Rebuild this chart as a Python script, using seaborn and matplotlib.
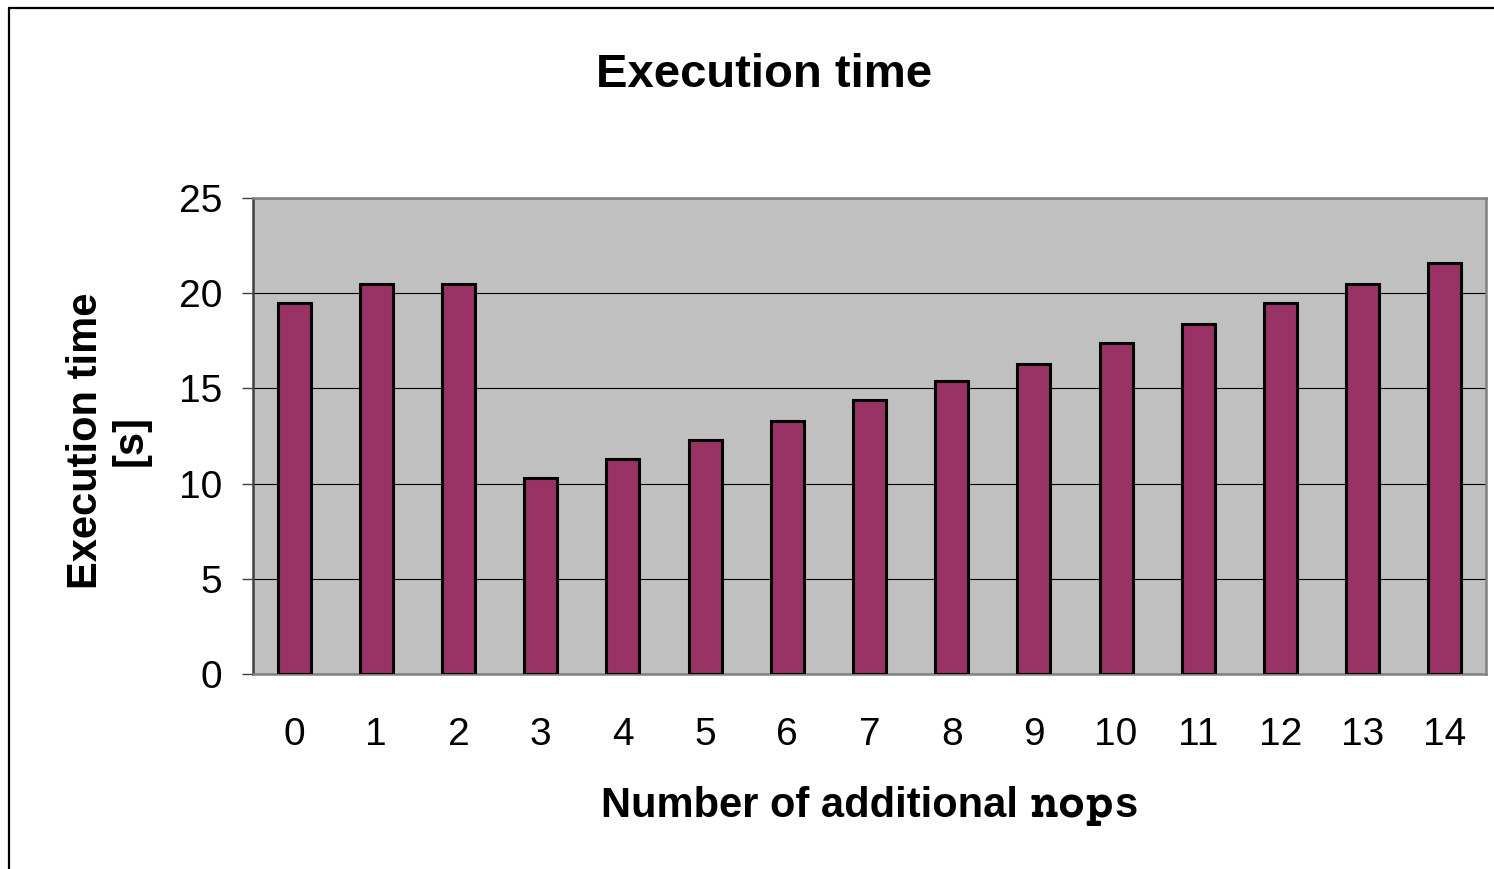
import matplotlib
matplotlib.use("Agg")
import matplotlib.pyplot as plt
from matplotlib.lines import Line2D
from matplotlib.ticker import FixedLocator
from matplotlib import font_manager
import seaborn as sns
import pandas as pd

# Execution time per number of inserted nops
nops = [str(i) for i in range(15)]
exec_time = [19.5, 20.5, 20.5, 10.3, 11.3, 12.3, 13.3, 14.4, 15.4, 16.3, 17.4, 18.4, 19.5, 20.5, 21.6]
y_ticks = [0, 5, 10, 15, 20, 25]

df = pd.DataFrame({"nops": nops, "time": exec_time})

sns.set_theme(style="white")
plt.rcParams["font.family"] = ["Liberation Sans", "DejaVu Sans"]
plt.rcParams["text.color"] = "black"
plt.rcParams["axes.labelcolor"] = "black"

W, H = 1494, 869
fig = plt.figure(figsize=(W / 100, H / 100), dpi=100)
ax = fig.add_axes([253 / W, 1 - 674 / H, (1486 - 253) / W, (674 - 198) / H])
ax.set_facecolor("#C0C0C0")

sns.barplot(data=df, x="nops", y="time", ax=ax, color="#993366",
            saturation=1, width=0.4, edgecolor="black", linewidth=2.2, zorder=3)

ax.set_xlim(-0.5, len(nops) - 0.5)
ax.set_ylim(0, 25)
ax.set_yticks(y_ticks)
ax.set_yticklabels([str(t) for t in y_ticks])
ax.yaxis.grid(True, color="black", linewidth=0.8, zorder=1)
ax.set_axisbelow(True)

# category boundaries carry the tick marks, labels sit between them
ax.xaxis.set_minor_locator(FixedLocator([i - 0.5 for i in range(len(nops) + 1)]))
ax.tick_params(axis="x", which="major", length=0, pad=31, labelsize=28, labelcolor="black")
ax.tick_params(axis="x", which="minor", length=9, width=1.0, color="#404040", direction="out")
ax.tick_params(axis="y", which="major", length=8, width=1.0, color="#404040",
               direction="out", pad=14, labelsize=28, labelcolor="black", left=True)

for side in ["top", "right", "bottom"]:
    ax.spines[side].set_color("#808080")
    ax.spines[side].set_linewidth(1.8)
ax.spines["left"].set_color("#404040")
ax.spines["left"].set_linewidth(1.8)
for s in ax.spines.values():
    s.set_visible(True)

ax.set_xlabel("")
ax.set_ylabel("Execution time\n[s]", fontsize=30, fontweight="bold", color="black",
              linespacing=1.15, multialignment="center")
ax.yaxis.label.set_verticalalignment("center")
ax.yaxis.set_label_coords((108 - 253) / (1486 - 253), 0.49)

fig.text(764 / W, 1 - 75 / H, "Execution time", fontsize=34, fontweight="bold",
         color="black", ha="center", va="center")


def pick_font(preferred):
    """Return a bold font file for the first available family in `preferred`."""
    entries = font_manager.fontManager.ttflist
    for name in preferred:
        hits = [f for f in entries if f.name == name and f.style == "normal"]
        bold = [f for f in hits if f.weight in ("bold", 700)]
        if bold:
            return bold[0].fname
    for name in preferred:
        hits = [f for f in entries if f.name == name and f.style == "normal"]
        if hits:
            return hits[0].fname
    return font_manager.findfont(font_manager.FontProperties(weight="bold"))


# x-axis title mixes a proportional face with a serif typewriter face
sans_bold = font_manager.FontProperties(
    fname=pick_font(["Liberation Sans", "Arimo", "DejaVu Sans"]), size=30)
mono_bold = font_manager.FontProperties(
    fname=pick_font(["Courier Prime", "Nimbus Mono PS", "FreeMono", "Liberation Mono",
                     "DejaVu Sans Mono"]), size=34)

renderer = fig.canvas.get_renderer()
parts = [("Number of additional ", sans_bold),
         ("nop", mono_bold),
         ("s", sans_bold)]
texts = []
for s, fp in parts:
    t = fig.text(0, 1 - 817 / H, s, fontproperties=fp, color="black",
                 ha="left", va="baseline")
    texts.append(t)
widths = [t.get_window_extent(renderer).width for t in texts]
total = sum(widths)
x0 = (253 + 1486) / 2 - total / 2
for t, w in zip(texts, widths):
    t.set_x(x0 / W)
    x0 += w

# outer frame of the chart
fig.add_artist(Line2D([9 / W, 1], [1 - 8 / H, 1 - 8 / H], color="black", linewidth=1.6))
fig.add_artist(Line2D([9 / W, 9 / W], [0, 1 - 8 / H], color="black", linewidth=1.6))

fig.savefig("out.png", dpi=100, facecolor="white")
